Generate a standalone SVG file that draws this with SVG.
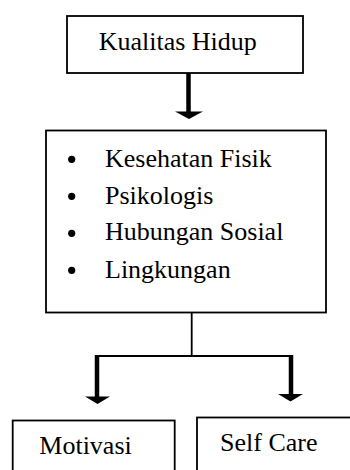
<svg xmlns="http://www.w3.org/2000/svg" width="350" height="470" viewBox="0 0 350 470">
<style>
.box{fill:#fff;stroke:#000;stroke-width:1.8}
.t{font-family:"Liberation Serif","Times New Roman",serif;font-size:26px;fill:#000}
.thick{stroke:#000;stroke-width:4.5;fill:none}
.thin{stroke:#000;stroke-width:1.8;fill:none}
.head{fill:#000}
</style>
<rect width="350" height="470" fill="#fff"/>
<g id="connectors">
<line class="thick" x1="188.5" y1="73" x2="188.5" y2="112"/>
<polygon class="head" points="175,111.5 203,111.5 189,119"/>
<line class="thin" x1="191.7" y1="313" x2="191.7" y2="356"/>
<polyline class="thin" points="97,356 291,356"/>
<line class="thick" x1="97" y1="355" x2="97" y2="397"/>
<polygon class="head" points="85,396.5 110,396.5 97.5,404"/>
<line class="thick" x1="291" y1="355" x2="291" y2="394.5"/>
<polygon class="head" points="278,394 303,394 290.5,401.5"/>
</g>
<g id="kualitas-hidup">
<rect class="box" x="67" y="16" width="236" height="57"/>
<text class="t" x="98.7" y="50">Kualitas Hidup</text>
</g>
<g id="domains">
<rect class="box" x="46" y="130.5" width="280" height="182"/>
<circle cx="71.7" cy="159.3" r="3.6"/>
<circle cx="71.7" cy="196.3" r="3.6"/>
<circle cx="71.7" cy="233.3" r="3.6"/>
<circle cx="71.7" cy="270.3" r="3.6"/>
<text class="t" x="105" y="166.7">Kesehatan Fisik</text>
<text class="t" x="105" y="203.5">Psikologis</text>
<text class="t" x="105" y="240.3">Hubungan Sosial</text>
<text class="t" x="105" y="277.5">Lingkungan</text>
</g>
<g id="motivasi">
<rect class="box" x="12.7" y="420.5" width="162" height="60"/>
<text class="t" x="39.3" y="454">Motivasi</text>
</g>
<g id="self-care">
<rect class="box" x="197" y="417.5" width="160" height="60"/>
<text class="t" x="220" y="451">Self Care</text>
</g>
</svg>
